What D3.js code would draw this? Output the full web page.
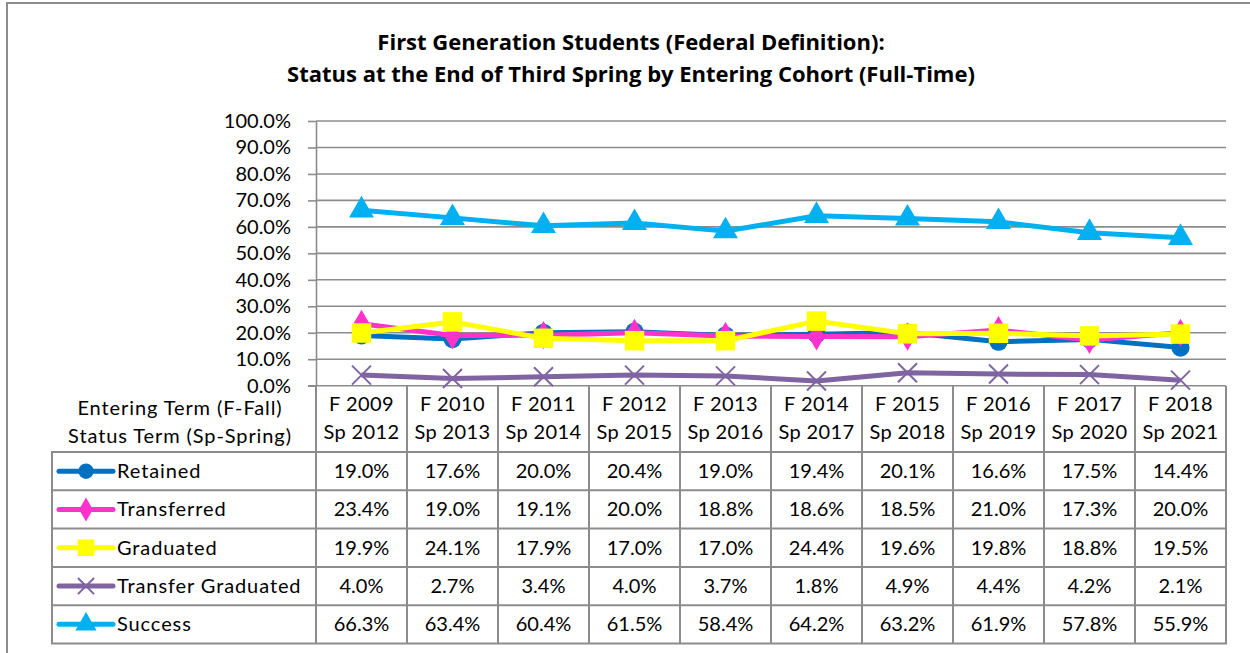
<!doctype html>
<html lang="en">
<head>
  <meta charset="utf-8">
  <script src="https://cdnjs.cloudflare.com/ajax/libs/d3/7.8.5/d3.min.js"></script>
  <style>
    body { margin: 0; background: #fff; }
    svg text { font-family: Lato, "Open Sans", sans-serif; fill: #000; }
    .lbl { letter-spacing: 0.9px; }
  </style>
</head>
<body>
<div id="chart"></div>
<script>
var entering = ["F 2009","F 2010","F 2011","F 2012","F 2013","F 2014","F 2015","F 2016","F 2017","F 2018"];
var statusTerms = ["Sp 2012","Sp 2013","Sp 2014","Sp 2015","Sp 2016","Sp 2017","Sp 2018","Sp 2019","Sp 2020","Sp 2021"];
var seriesNames = ["Retained","Transferred","Graduated","Transfer Graduated","Success"];
var retained    = [19.0, 17.6, 20.0, 20.4, 19.0, 19.4, 20.1, 16.6, 17.5, 14.4];
var transferred = [23.4, 19.0, 19.1, 20.0, 18.8, 18.6, 18.5, 21.0, 17.3, 20.0];
var graduated   = [19.9, 24.1, 17.9, 17.0, 17.0, 24.4, 19.6, 19.8, 18.8, 19.5];
var transferGrad= [4.0, 2.7, 3.4, 4.0, 3.7, 1.8, 4.9, 4.4, 4.2, 2.1];
var success     = [66.3, 63.4, 60.4, 61.5, 58.4, 64.2, 63.2, 61.9, 57.8, 55.9];
var yTicks = [0, 10, 20, 30, 40, 50, 60, 70, 80, 90, 100];

var seriesVals = [retained, transferred, graduated, transferGrad, success];
var colors = ["#0070C0", "#FF33CC", "#FFFF00", "#8064A2", "#00B0F0"];
var symbols = [d3.symbolCircle, d3.symbolDiamond, d3.symbolSquare, "x", d3.symbolTriangle];
var symSize = [260, 230, 380, 0, 270];

var W = 1250, H = 653;
var svg = d3.select("#chart").append("svg").attr("width", W).attr("height", H);

// outer frame
svg.append("rect").attr("x", 7).attr("y", 3).attr("width", W).attr("height", H)
  .attr("fill", "none").attr("stroke", "#8c8c8c").attr("stroke-width", 2);

// title
svg.append("text").attr("x", 631).attr("y", 50).attr("text-anchor", "middle")
  .style("font-family", "'Open Sans', sans-serif")
  .style("font-weight", "bold").style("font-size", "22px")
  .text("First Generation Students (Federal Definition):");
svg.append("text").attr("x", 631).attr("y", 82).attr("text-anchor", "middle")
  .style("font-family", "'Open Sans', sans-serif")
  .style("font-weight", "bold").style("font-size", "22px")
  .text("Status at the End of Third Spring by Entering Cohort (Full-Time)");

var x = d3.scaleBand().domain(entering).range([316, 1226]);
var y = d3.scaleLinear().domain([0, 100]).range([385.7, 121]);

// gridlines
svg.append("g").selectAll("line").data(yTicks.filter(function(d){ return d > 0; })).enter()
  .append("line")
  .attr("x1", 316).attr("x2", 1226)
  .attr("y1", function(d){ return y(d); }).attr("y2", function(d){ return y(d); })
  .attr("stroke", "#8c8c8c").attr("stroke-width", 1.6);

// y axis
var yAxis = d3.axisLeft(y).tickValues(yTicks).tickSize(8).tickSizeOuter(0)
  .tickFormat(function(d){ return d.toFixed(1) + "%"; });
var ya = svg.append("g").attr("transform", "translate(316,0)").call(yAxis);
ya.selectAll("path, line").attr("stroke", "#8c8c8c").attr("stroke-width", 1.6);
ya.selectAll("text").attr("x", -25).style("font-size", "20px")
  .style("font-family", "Lato, sans-serif").attr("fill", "#000");

// x baseline
svg.append("line").attr("x1", 308).attr("x2", 1226).attr("y1", y(0)).attr("y2", y(0))
  .attr("stroke", "#8c8c8c").attr("stroke-width", 1.6);

function drawMarker(g, i, cx, cy, scale) {
  if (symbols[i] === "x") {
    var s = 9.5 * scale;
    g.append("path")
      .attr("d", "M" + (cx - s) + "," + (cy - s) + "L" + (cx + s) + "," + (cy + s) +
                 "M" + (cx - s) + "," + (cy + s) + "L" + (cx + s) + "," + (cy - s))
      .attr("stroke", colors[i]).attr("stroke-width", 2).attr("fill", "none");
  } else {
    g.append("path")
      .attr("d", d3.symbol().type(symbols[i]).size(symSize[i] * scale * scale)())
      .attr("transform", "translate(" + cx + "," + cy + ")")
      .attr("fill", colors[i]);
  }
}

// series lines + markers
var line = d3.line()
  .x(function(d, j){ return x(entering[j]) + x.bandwidth() / 2; })
  .y(function(d){ return y(d); });

seriesVals.forEach(function(vals, i) {
  var g = svg.append("g");
  g.append("path").datum(vals).attr("d", line)
    .attr("fill", "none").attr("stroke", colors[i]).attr("stroke-width", 5)
    .attr("stroke-linejoin", "round");
  vals.forEach(function(v, j) {
    drawMarker(g, i, x(entering[j]) + x.bandwidth() / 2, y(v), 1);
  });
});

// data table
var rows = d3.scaleBand().domain(seriesNames).range([452, 643.5]);
var tableG = svg.append("g");
var lineColor = "#8c8c8c";

// header text
tableG.append("text").attr("class", "lbl").attr("x", 180).attr("y", 415).attr("text-anchor", "middle")
  .style("font-size", "20px").text("Entering Term (F-Fall)");
tableG.append("text").attr("class", "lbl").attr("x", 180).attr("y", 443).attr("text-anchor", "middle")
  .style("font-size", "20px").text("Status Term (Sp-Spring)");

entering.forEach(function(c, j) {
  var cx = x(c) + x.bandwidth() / 2;
  tableG.append("text").attr("x", cx).attr("y", 411).attr("text-anchor", "middle")
    .style("font-size", "20px").style("letter-spacing", "0.4px").text(c);
  tableG.append("text").attr("x", cx).attr("y", 439).attr("text-anchor", "middle")
    .style("font-size", "20px").style("letter-spacing", "0.4px").text(statusTerms[j]);
});

// vertical lines for category columns
var bounds = entering.map(function(c){ return x(c); }).concat([x.range()[1]]);
tableG.selectAll("line.v").data(bounds).enter().append("line")
  .attr("x1", function(d){ return d; }).attr("x2", function(d){ return d; })
  .attr("y1", 386).attr("y2", 643.5)
  .attr("stroke", lineColor).attr("stroke-width", 2);
tableG.append("line").attr("x1", 52).attr("x2", 52).attr("y1", 452).attr("y2", 643.5)
  .attr("stroke", lineColor).attr("stroke-width", 2);

// horizontal lines
var hLines = seriesNames.map(function(n){ return rows(n); }).concat([rows.range()[1]]);
tableG.selectAll("line.h").data(hLines).enter().append("line")
  .attr("x1", 51).attr("x2", 1227)
  .attr("y1", function(d){ return d; }).attr("y2", function(d){ return d; })
  .attr("stroke", lineColor).attr("stroke-width", 2);

// rows
seriesNames.forEach(function(name, i) {
  var cy = rows(name) + rows.bandwidth() / 2;
  var lg = tableG.append("g");
  lg.append("line").attr("x1", 59).attr("x2", 113).attr("y1", cy).attr("y2", cy)
    .attr("stroke", colors[i]).attr("stroke-width", 5).attr("stroke-linecap", "round");
  drawMarker(lg, i, 86, cy, 0.85);
  lg.append("text").attr("class", "lbl").attr("x", 117).attr("y", cy).attr("dy", "0.35em")
    .style("font-size", "20px").text(name);
  seriesVals[i].forEach(function(v, j) {
    tableG.append("text").attr("x", x(entering[j]) + x.bandwidth() / 2).attr("y", cy)
      .attr("dy", "0.35em").attr("text-anchor", "middle")
      .style("font-size", "20px").text(v.toFixed(1) + "%");
  });
});
</script>
</body>
</html>
